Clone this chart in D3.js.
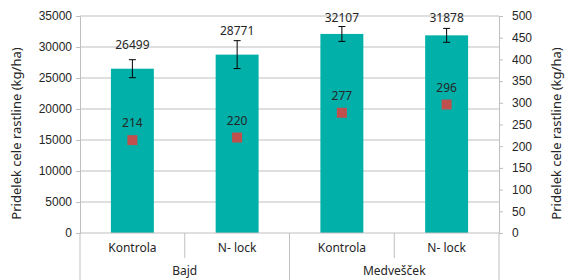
<!DOCTYPE html>
<html>
<head>
<meta charset="utf-8">
<script src="https://cdn.jsdelivr.net/npm/d3@7"></script>
<style>
  html, body { margin: 0; padding: 0; background: #fff; }
  svg { display: block; font-family: "Noto Sans", sans-serif; }
</style>
</head>
<body>
<div id="chart"></div>
<script>
// data
const categories = ["Kontrola", "N- lock", "Kontrola", "N- lock"];
const groups = ["Bajd", "Medvešček"];
const yieldValues = [26499, 28771, 32107, 31878];
const yieldErrors = [1450, 2250, 1200, 1120];
const secondValues = [214, 220, 277, 296];
const leftTicks = [0, 5000, 10000, 15000, 20000, 25000, 30000, 35000];
const rightTicks = [0, 50, 100, 150, 200, 250, 300, 350, 400, 450, 500];
const axisTitle = "Pridelek cele rastline (kg/ha)";

const width = 567, height = 280;
const margin = { top: 16, right: 68, bottom: 47, left: 80 };
const innerW = width - margin.left - margin.right;
const innerH = height - margin.top - margin.bottom;

const svg = d3.select("#chart").append("svg")
  .attr("width", width)
  .attr("height", height);

const g = svg.append("g")
  .attr("transform", `translate(${margin.left},${margin.top})`);

const x = d3.scaleBand()
  .domain(d3.range(categories.length))
  .range([0, innerW])
  .paddingInner(0.59)
  .paddingOuter(0.295);

const y = d3.scaleLinear().domain([0, 35000]).range([innerH, 0]);
const y2 = d3.scaleLinear().domain([0, 500]).range([innerH, 0]);

const gridColor = "#bfbfbf";
const textColor = "#262626";

// gridlines
g.append("g")
  .selectAll("line")
  .data(leftTicks.filter(d => d > 0))
  .join("line")
  .attr("x1", 0).attr("x2", innerW)
  .attr("y1", d => y(d)).attr("y2", d => y(d))
  .attr("stroke", gridColor);

// left axis
const leftAxis = g.append("g")
  .call(d3.axisLeft(y).tickValues(leftTicks).tickFormat(d3.format("d")).tickSize(4).tickPadding(4));
leftAxis.select(".domain").attr("stroke", gridColor);
leftAxis.selectAll(".tick line").attr("stroke", gridColor);
leftAxis.selectAll("text").attr("font-size", 12).attr("fill", textColor);

// right axis
const rightAxis = g.append("g")
  .attr("transform", `translate(${innerW},0)`)
  .call(d3.axisRight(y2).tickValues(rightTicks).tickFormat(d3.format("d")).tickSize(4).tickPadding(9));
rightAxis.select(".domain").attr("stroke", gridColor);
rightAxis.selectAll(".tick line").attr("stroke", gridColor);
rightAxis.selectAll("text").attr("font-size", 12).attr("fill", textColor);

// bars
g.append("g")
  .selectAll("rect")
  .data(yieldValues)
  .join("rect")
  .attr("x", (d, i) => x(i))
  .attr("y", d => y(d))
  .attr("width", x.bandwidth())
  .attr("height", d => innerH - y(d))
  .attr("fill", "#00b0a9");

// error bars
const err = g.append("g").attr("stroke", "#000").attr("stroke-width", 1);
yieldValues.forEach((v, i) => {
  const cx = x(i) + x.bandwidth() / 2;
  const top = y(v + yieldErrors[i]), bot = y(v - yieldErrors[i]);
  err.append("line").attr("x1", cx).attr("x2", cx).attr("y1", top).attr("y2", bot);
  err.append("line").attr("x1", cx - 3.5).attr("x2", cx + 3.5).attr("y1", top).attr("y2", top);
  err.append("line").attr("x1", cx - 3.5).attr("x2", cx + 3.5).attr("y1", bot).attr("y2", bot);
});

// bar labels
g.append("g")
  .selectAll("text")
  .data(yieldValues)
  .join("text")
  .attr("x", (d, i) => x(i) + x.bandwidth() / 2)
  .attr("y", d => Math.max(y(d) - 24, 2))
  .attr("dy", "0.35em")
  .attr("text-anchor", "middle")
  .attr("font-size", 12)
  .attr("fill", textColor)
  .text(d => d);

// secondary markers
g.append("g")
  .selectAll("rect")
  .data(secondValues)
  .join("rect")
  .attr("x", (d, i) => x(i) + x.bandwidth() / 2 - 5)
  .attr("y", d => y2(d) - 5)
  .attr("width", 10)
  .attr("height", 10)
  .attr("fill", "#c0504d");

g.append("g")
  .selectAll("text")
  .data(secondValues)
  .join("text")
  .attr("x", (d, i) => x(i) + x.bandwidth() / 2)
  .attr("y", d => y2(d) - 17)
  .attr("dy", "0.35em")
  .attr("text-anchor", "middle")
  .attr("font-size", 12)
  .attr("fill", textColor)
  .text(d => d);

// category axis: bottom line, separators, labels
const xa = g.append("g").attr("transform", `translate(0,${innerH})`);
xa.append("line").attr("x1", 0).attr("x2", innerW).attr("stroke", gridColor);
const step = x.step();
d3.range(categories.length + 1).forEach(i => {
  const long = i % 2 === 0;
  xa.append("line")
    .attr("x1", i * step).attr("x2", i * step)
    .attr("y1", 0).attr("y2", long ? margin.bottom : 25)
    .attr("stroke", gridColor);
});
xa.selectAll("text.cat")
  .data(categories)
  .join("text")
  .attr("class", "cat")
  .attr("x", (d, i) => x(i) + x.bandwidth() / 2)
  .attr("y", 15)
  .attr("dy", "0.35em")
  .attr("text-anchor", "middle")
  .attr("font-size", 12)
  .attr("fill", textColor)
  .text(d => d);
xa.selectAll("text.grp")
  .data(groups)
  .join("text")
  .attr("class", "grp")
  .attr("x", (d, i) => (i * 2 + 1) * step)
  .attr("y", 38)
  .attr("dy", "0.35em")
  .attr("text-anchor", "middle")
  .attr("font-size", 12)
  .attr("fill", textColor)
  .text(d => d);

// axis titles
svg.append("text")
  .attr("transform", `translate(16,${margin.top + innerH / 2 + 9}) rotate(-90)`)
  .attr("dy", "0.35em")
  .attr("text-anchor", "middle")
  .attr("font-size", 13)
  .attr("fill", textColor)
  .text(axisTitle);

svg.append("text")
  .attr("transform", `translate(556,${margin.top + innerH / 2 + 9}) rotate(-90)`)
  .attr("dy", "0.35em")
  .attr("text-anchor", "middle")
  .attr("font-size", 13)
  .attr("fill", textColor)
  .text(axisTitle);
</script>
</body>
</html>
